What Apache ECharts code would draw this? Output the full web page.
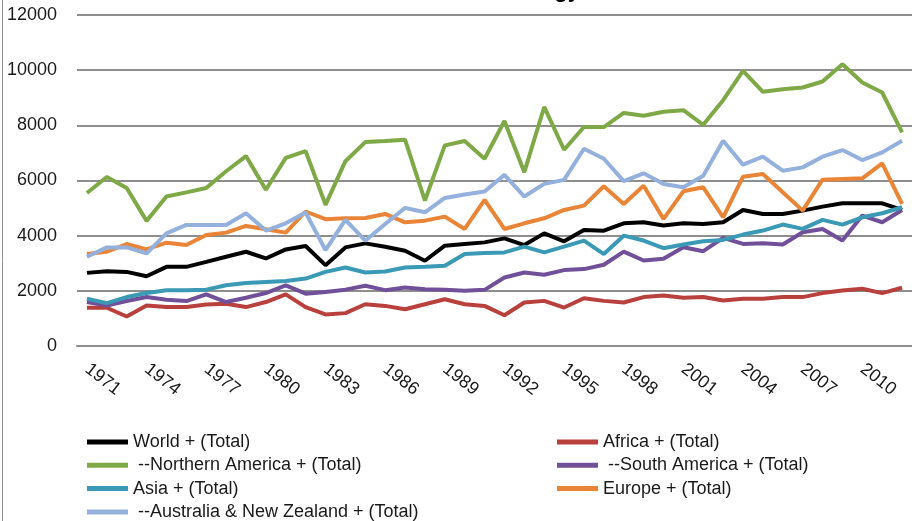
<!DOCTYPE html>
<html>
<head>
<meta charset="utf-8">
<script src="https://cdn.jsdelivr.net/npm/echarts@6/dist/echarts.min.js"></script>
<style>
html,body{margin:0;padding:0;background:#fff;}
#chart{width:912px;height:521px;}
</style>
</head>
<body>
<div id="chart"></div>
<script>
const titleText = 'Energy';
const years = [];
for (let y = 1971; y <= 2012; y++) years.push(String(y));
const yTicks = [0, 2000, 4000, 6000, 8000, 10000, 12000];

const world = [2651, 2712, 2687, 2529, 2870, 2870, 3052, 3235, 3417, 3174, 3502, 3624, 2931, 3575, 3721, 3600, 3454, 3091, 3636, 3697, 3757, 3903, 3660, 4084, 3794, 4206, 4181, 4448, 4486, 4366, 4450, 4426, 4486, 4933, 4788, 4788, 4908, 5053, 5174, 5174, 5174, 4933];
const africa = [1386, 1386, 1070, 1471, 1411, 1411, 1508, 1532, 1411, 1593, 1873, 1411, 1143, 1192, 1515, 1454, 1333, 1515, 1697, 1515, 1454, 1115, 1576, 1636, 1394, 1733, 1636, 1576, 1773, 1833, 1749, 1773, 1652, 1713, 1713, 1773, 1773, 1918, 2014, 2074, 1918, 2110];
const northernAmerica = [5545, 6129, 5727, 4536, 5423, 5569, 5727, 6335, 6883, 5666, 6822, 7065, 5119, 6700, 7393, 7430, 7478, 5272, 7272, 7430, 6787, 8157, 6302, 8666, 7114, 7939, 7939, 8448, 8346, 8490, 8551, 8020, 8912, 9974, 9214, 9310, 9371, 9588, 10215, 9552, 9190, 7743];
const southAmerica = [1593, 1471, 1629, 1775, 1678, 1629, 1873, 1593, 1751, 1921, 2201, 1897, 1958, 2043, 2182, 2024, 2121, 2060, 2036, 2000, 2036, 2485, 2666, 2582, 2751, 2788, 2945, 3420, 3099, 3160, 3582, 3437, 3920, 3702, 3727, 3678, 4124, 4245, 3823, 4727, 4486, 4933];
const asia = [1715, 1556, 1775, 1921, 2019, 2019, 2043, 2201, 2286, 2323, 2359, 2444, 2687, 2846, 2666, 2703, 2848, 2872, 2909, 3333, 3369, 3394, 3600, 3394, 3600, 3818, 3333, 4000, 3823, 3546, 3678, 3799, 3847, 4040, 4185, 4402, 4245, 4571, 4402, 4667, 4812, 5029];
const europe = [3332, 3417, 3697, 3502, 3745, 3660, 4025, 4110, 4353, 4232, 4110, 4876, 4596, 4633, 4642, 4787, 4484, 4545, 4690, 4242, 5296, 4242, 4448, 4630, 4933, 5090, 5793, 5151, 5813, 4607, 5608, 5753, 4667, 6139, 6235, 5572, 4908, 6030, 6054, 6078, 6621, 5150];
const australiaNZ = [3235, 3575, 3575, 3356, 4086, 4390, 4390, 4390, 4815, 4183, 4450, 4840, 3478, 4572, 3818, 4424, 5006, 4848, 5369, 5490, 5599, 6205, 5418, 5878, 6024, 7151, 6787, 5975, 6259, 5873, 5753, 6175, 7441, 6573, 6862, 6356, 6476, 6862, 7103, 6742, 7019, 7441];

const names = ['World + (Total)', 'Africa + (Total)', ' --Northern America + (Total)', ' --South America + (Total)', 'Asia + (Total)', 'Europe + (Total)', ' --Australia & New Zealand + (Total)'];
const seriesData = [world, africa, northernAmerica, southAmerica, asia, europe, australiaNZ];
const colors = ['#000000', '#b8413e', '#7fa846', '#71509a', '#3a9ab5', '#ea8537', '#93b1dc'];

const chart = echarts.init(document.getElementById('chart'));
const font = "'Liberation Sans', Arial, sans-serif";
// legend grid: two columns, four rows (row-major order, as in the reference)
const legendCols = [87, 557];
const legendRows = [432, 455.3, 478.6, 501.9];
const legends = names.map((n, i) => ({
  left: legendCols[i % 2], top: legendRows[Math.floor(i / 2)], padding: 0,
  data: [n], icon: 'rect', itemWidth: 41, itemHeight: 5,
  textStyle: { fontFamily: font, fontSize: 18, color: '#1a1a1a', lineHeight: 20 },
  selectedMode: false
}));

chart.setOption({
  animation: false,
  color: colors,
  grid: { left: 77, top: 15, bottom: 175, right: -9 },
  xAxis: {
    type: 'category', data: years, boundaryGap: true,
    axisLine: { lineStyle: { color: '#8e8e8e', width: 2 } },
    axisTick: { show: false },
    axisLabel: { interval: 2, rotate: -38, margin: 21, fontFamily: font, fontSize: 18, color: '#1a1a1a' }
  },
  yAxis: {
    type: 'value', min: yTicks[0], max: yTicks[yTicks.length - 1], interval: 2000,
    axisLine: { show: false }, axisTick: { show: false },
    splitLine: { lineStyle: { color: '#8e8e8e', width: 2 } },
    axisLabel: { margin: 20, fontFamily: font, fontSize: 18, color: '#1a1a1a', formatter: v => String(v) }
  },
  legend: legends,
  graphic: [
    { type: 'line', shape: { x1: 2.5, y1: 0, x2: 2.5, y2: 521 }, style: { stroke: '#8e8e8e', lineWidth: 1 } },
    { type: 'text', x: 580, y: 2, style: { text: titleText, textAlign: 'right', textVerticalAlign: 'bottom', font: "bold 22px 'Liberation Sans', Arial, sans-serif", fill: '#000' } }
  ],
  series: seriesData.map((d, i) => ({
    name: names[i], type: 'line', data: d, showSymbol: false, symbol: 'none',
    lineStyle: { width: 4, color: colors[i] }, itemStyle: { color: colors[i] }
  }))
});
</script>
</body>
</html>
